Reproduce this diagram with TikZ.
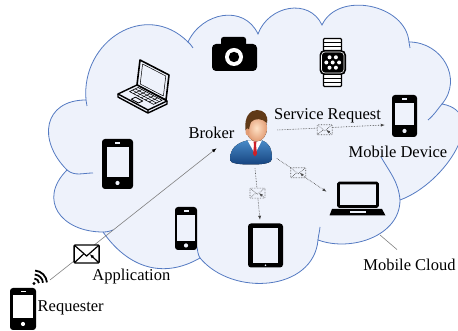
\documentclass[tikz,border=0pt]{standalone}
\usepackage{fontspec}
\setmainfont{Liberation Serif}
\usepackage{xcolor}
\usepackage{tikz}
\usetikzlibrary{arrows.meta,shapes.misc}

\definecolor{cloudfill}{RGB}{238,242,251}
\definecolor{cloudline}{RGB}{84,122,194}
\definecolor{suitlight}{RGB}{72,138,200}
\definecolor{suitdark}{RGB}{22,68,128}
\definecolor{skinlight}{RGB}{255,226,198}
\definecolor{skindark}{RGB}{226,156,116}
\definecolor{hairbrown}{RGB}{96,58,24}
\definecolor{tiered}{RGB}{204,32,40}

% phone: width, height, side bezel, top bezel, bottom bezel
\tikzset{
  screen/.style={fill=cloudfill},
  pics/handset/.style n args={5}{code={
    \fill[rounded corners=3] (-#1/2,-#2/2) rectangle (#1/2,#2/2);
    \fill[screen] (-#1/2+#3,-#2/2+#5) rectangle (#1/2-#3,#2/2-#4);
    \fill[screen] (-2.5,#2/2-#4/2-0.6) rectangle (2.5,#2/2-#4/2+0.6);
    \fill[screen] (0,-#2/2+#5/2) circle (2.1);
    \node[inner sep=0, minimum width=#1, minimum height=#2] (-body) {};
  }},
}

\begin{document}
\begin{tikzpicture}[x=1pt,y=1pt,
  font=\fontsize{16.5}{20}\selectfont,
  lbl/.style={inner sep=0pt, anchor=base},
  link/.style={densely dotted, black!75, line width=0.6pt, -{Latex[length=4pt,width=3pt]}},
  send/.style={gray, line width=0.6pt, -{Latex[color=black,length=4.5pt,width=3.5pt]}},
  env/.style={draw=gray!60!black, fill=cloudfill, line width=0.7pt, rounded corners=0.8pt,
    minimum width=15pt, minimum height=10pt, inner sep=0pt,
    path picture={\draw[gray!60!black, line width=0.6pt, sharp corners]
      (path picture bounding box.north west) -- ([yshift=-1pt]path picture bounding box.center) -- (path picture bounding box.north east)
      (path picture bounding box.south west) -- ([xshift=-1.5pt]path picture bounding box.center)
      (path picture bounding box.south east) -- ([xshift=1.5pt]path picture bounding box.center);}},
  bigenv/.style={draw=black, fill=white, line width=1.4pt, rounded corners=1pt,
    minimum width=25pt, minimum height=18pt, inner sep=0pt,
    path picture={\draw[line width=1.2pt, sharp corners]
      (path picture bounding box.north west) -- ([yshift=-2pt]path picture bounding box.center) -- (path picture bounding box.north east)
      (path picture bounding box.south west) -- ([xshift=-3pt]path picture bounding box.center)
      (path picture bounding box.south east) -- ([xshift=3pt]path picture bounding box.center);}}]

\useasboundingbox (0,0) rectangle (458,331);

% the cloud
\path[fill=cloudfill, draw=cloudline, line width=0.8pt]
  (86,231) to[out=95,in=135,looseness=1.3] (188,289)
  to[out=65,in=115,looseness=1.2] (258,297)
  to[out=70,in=115,looseness=1.2] (322,306)
  to[out=65,in=95,looseness=1.1] (409,289)
  to[out=0,in=50,looseness=1.2] (442,227)
  to[out=-10,in=20,looseness=1.2] (400,131)
  to[out=-90,in=-20] (318,91)
  to[out=-95,in=-50,looseness=1.1] (200,73)
  to[out=-150,in=-55,looseness=1.1] (103,99)
  to[out=180,in=-135,looseness=1.5] (67,161)
  to[out=135,in=180,looseness=1.5] (86,231) -- cycle;
\draw[cloudline, line width=0.8pt]
  (86,231) -- (87,225)
  (188,289) to[out=-45,in=120] (193,283)
  (409,289) -- (410,283)
  (442,227) to[out=-130,in=40] (428,211)
  (400,131) to[out=95,in=-60] (381,174)
  (318,91) to[out=85,in=-95] (320,104)
  (200,73) to[out=120,in=-80] (197,84)
  (103,99) to[out=0,in=-160] (113,101)
  (67,161) to[out=-40,in=180] (93,158);

% laptop, open
\begin{scope}[shift={(137,246)}, x={(29pt,-15pt)}, y={(3pt,25pt)}, line width=1.6pt, line join=round]
  \draw[fill=cloudfill] (0,0) -- (1,0) -- (1,1) -- (0,1) -- cycle;
  \draw[line width=0.5pt] (0.1,0.1) -- (0.9,0.1) -- (0.9,0.9) -- (0.1,0.9) -- cycle;
\end{scope}
\begin{scope}[shift={(137,246)}, x={(30pt,-16pt)}, y={(-19pt,-9pt)}, line width=1.4pt, line join=round]
  \draw[fill=cloudfill] (0,0) -- (1,0) -- (1,1) -- (0,1) -- cycle;
  \draw (0,1) -- (0.1,1.16) -- (1.1,1.16) -- (1.1,0.16) -- (1,0) (1,1) -- (1.1,1.16);
  \draw[line width=0.6pt] (0.1,0.1) -- (0.9,0.1) -- (0.9,0.55) -- (0.1,0.55) -- cycle;
  \foreach \v in {0.25,0.4} \draw[line width=0.5pt] (0.1,\v) -- (0.9,\v);
  \foreach \u in {0.23,0.36,...,0.8} \draw[line width=0.5pt] (\u,0.1) -- (\u,0.55);
  \draw[line width=0.8pt] (0.38,0.68) -- (0.62,0.68) -- (0.62,0.9) -- (0.38,0.9) -- cycle;
\end{scope}

% camera
\fill[rounded corners=4] (212,260) rectangle (257,287);
\fill[rounded corners=2.5] (221,283) rectangle (246,294);
\fill[white] (234,274) circle (9);
\fill (234,274) circle (5.2);

% watch
\draw[line width=1.2pt, fill=white, rounded corners=1] (323.5,280) rectangle (341.5,292.5);
\draw[line width=1.2pt, fill=white, rounded corners=1] (323.5,244.5) rectangle (341.5,257);
\foreach \y in {284.5,288.5,248.5,252.5} \draw[line width=0.8pt] (323.5,\y) -- (341.5,\y);
\fill[rounded corners=5] (319.5,256) rectangle (346,281);
\draw[white, line width=0.6pt, rounded corners=3.5] (321.5,258) rectangle (344,279);
\foreach \p in {(-3.2,5.2),(3.2,5.2),(-6.4,0),(0,0),(6.4,0),(-3.2,-5.2),(3.2,-5.2)}
  \fill[white] ([shift={\p}]332.7,268.5) circle (2);

% phones and tablet
\pic (ph) at (117.5,167) {handset={31}{50}{4.5}{8}{12}};
\pic (sp) at (186,102.5) {handset={22}{43}{2}{8}{9}};
\pic (md) at (404.5,215) {handset={25}{42}{3}{8}{12}};
\pic[screen/.style={fill=white}] (rq) at (23,22) {handset={26}{42}{3}{7}{12}};
\node[fill=black, rounded corners=3, minimum width=35, minimum height=44, inner sep=0] (tab) at (265.5,85.5) {};
\fill[cloudfill] ([shift={(5,5)}]tab.south west) rectangle ([shift={(-5,-5)}]tab.north east);
\fill[cloudfill] ([yshift=2.5]tab.south) circle (0.9);

% laptop
\node[inner sep=0, minimum width=56, minimum height=35] (lap) at (357,132) {};
\draw[line width=2.6pt, rounded corners=1] (338.5,124.5) rectangle (377.5,148);
\fill (332,122) -- (382,122) -- (385.5,115.5) -- (329.5,115.5) -- cycle;
\fill[cloudfill] (350,118.3) rectangle (366,120.3);

% wifi
\coordinate (wifi) at (34,47.5);
\fill (wifi) circle (1.7);
\foreach \r in {5,9,13}
  \draw[line width=1.8pt] ([shift={(5:\r)}]wifi) arc[start angle=5, end angle=85, radius=\r];

% broker
\node[inner sep=0, minimum width=43, minimum height=54] (brk) at (250.5,194) {};
\fill[top color=suitlight, bottom color=suitdark]
  (230,171) .. controls (230,183) and (237,188) .. (247,190.5)
  -- (262,190.5) .. controls (269,188) and (272,183) .. (272,172)
  .. controls (272,167.5) and (262,166.5) .. (251,166.5)
  .. controls (240,166.5) and (230,167.5) .. (230,171) -- cycle;
\fill[skindark] (251,186) rectangle (260,194);
\fill[white] (247.5,190.5) -- (255,177) -- (262,190.5) -- cycle;
\fill[tiered] (253.5,189.5) -- (256.5,189.5) -- (256,186) -- (257,177) -- (255,174.5) -- (253,177) -- (254,186) -- cycle;
\fill[inner color=skinlight, outer color=skindark] (256.5,203) ellipse (10.5 and 13.5);
\fill[hairbrown] (245.5,201) .. controls (244,214) and (250,221) .. (257,221)
  .. controls (264,221) and (268.5,216) .. (267,208)
  .. controls (262,213) and (255,213) .. (251,209)
  .. controls (249.5,205) and (249,201) .. (248,197) -- cycle;
\fill[skindark] (247.5,199) ellipse (2 and 3.5);

% labels
\node[lbl] (brklbl) at (211.5,192) {Broker};
\node[lbl] (srlbl) at (327.5,211.7) {Service Request};
\node[lbl] (mdlbl) at (398,173) {Mobile Device};
\node[lbl] (applbl) at (131.3,50) {Application};
\node[lbl] (rqlbl) at (70.7,19.3) {Requester};
\node[lbl] (cloudlbl) at (409.5,60.3) {Mobile Cloud};

% messages
\draw[send] ([shift={(16,3.5)}]wifi) -- ([shift={(-12.3,-11.3)}]brk.west)
  node[bigenv, pos=.22, yshift=-3] (env0) {};
\draw[link] ([shift={(5.3,7)}]brk.east) -- ([shift={(-7,-9)}]md-body.west)
  node[env, pos=.44, yshift=-2] (env1) {};
\draw[link] ([shift={(4.7,5.7)}]brk.south east) -- ([shift={(-2.3,7.3)}]lap.west)
  node[env, pos=.43] (env2) {};
\draw[link] ([shift={(4.5,-4.3)}]brk.south) -- ([shift={(-5.5,3.5)}]tab.north)
  node[env, pos=.48] (env3) {};

\coordinate (rim) at (380,96);
\draw[gray, line width=0.6pt] (rim) -- ([shift={(-12.5,9.5)}]cloudlbl.north);
\end{tikzpicture}
\end{document}
